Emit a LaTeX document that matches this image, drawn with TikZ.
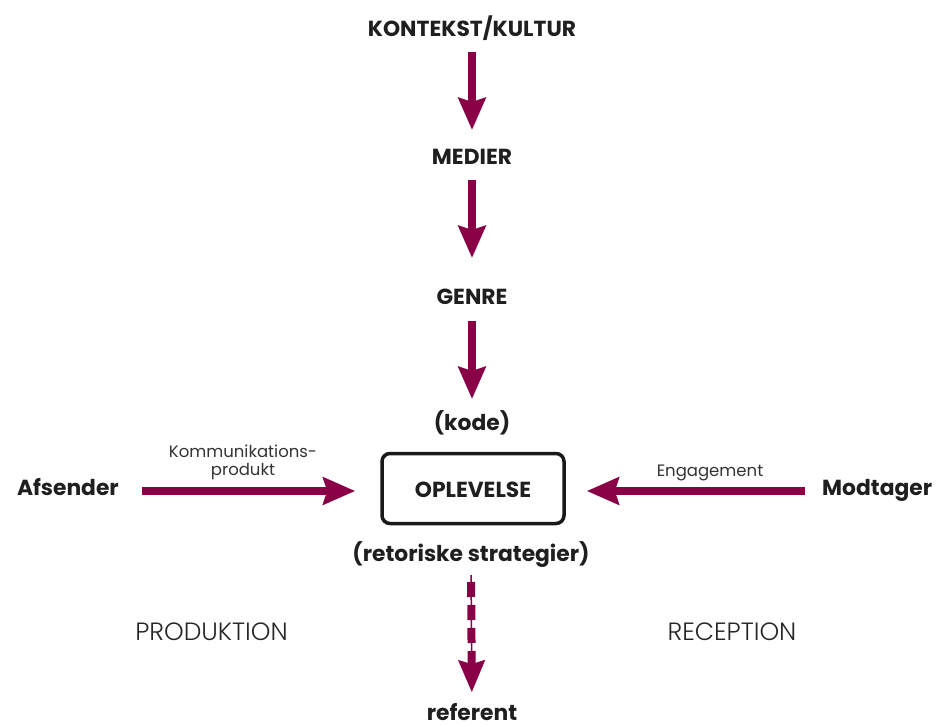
\documentclass[tikz,border=0pt]{standalone}
\usepackage{fontspec}
\setmainfont{Poppins}
\newfontfamily\lightfont{Poppins Light}
\usetikzlibrary{arrows.meta}
\definecolor{wine}{RGB}{138,0,70}
\tikzset{
  lbl/.style={inner sep=0pt, font=\fontsize{21.8}{26}\selectfont\bfseries, text=black!88},
  small/.style={inner sep=0pt, font=\fontsize{16.5}{18}\selectfont, text=black!80, align=center},
  phase/.style={inner sep=0pt, font=\fontsize{25}{29}\selectfont\lightfont, text=black!85},
  flow/.style={draw=wine, line width=8pt, -{Stealth[length=32pt,width=27pt,inset=4pt]}},
  thinflow/.style={draw=wine, line width=1.5pt, -{Stealth[length=32pt,width=27pt,inset=4pt]}},
  dashpart/.style={draw=wine, line width=8pt, dash pattern=on 15pt off 8pt},
  frame/.style={draw=black!90, line width=3.5pt, rounded corners=8pt, minimum width=182pt, minimum height=70pt, inner sep=0pt}
}
\begin{document}
\begin{tikzpicture}[x=1pt,y=-1pt]
\useasboundingbox (0,0) rectangle (940,727);
\node[lbl, anchor=base] (kk) at (472,37) {KONTEKST/KULTUR};
\node[lbl, anchor=base] (med) at (472,165) {MEDIER};
\node[lbl, anchor=base] (genre) at (472,305) {GENRE};
\node[lbl, anchor=base] (kode) at (472,430) {(kode)};
\node[frame] (box) at (473,488.5) {};
\node[lbl, anchor=base] (opl) at (473,497) {OPLEVELSE};
\node[lbl, anchor=base] (ret) at (471,561) {(retoriske strategier)};
\node[lbl, anchor=base] (ref) at (472,720) {referent};
\node[lbl, anchor=base east] (afs) at (119,495) {Afsender};
\node[lbl, anchor=base west] (mod) at (822,495) {Modtager};
\node[small, anchor=north] (komm) at (243,445) {Kommunikations-\\produkt};
\node[small, anchor=base] (eng) at (710,476) {Engagement};
\node[phase, anchor=base] (prod) at (211.5,640) {PRODUKTION};
\node[phase, anchor=base] (rec) at (732,640) {RECEPTION};

\draw[flow, shorten <=15pt, shorten >=35pt] (kk.base) -- (med.base);
\draw[flow, shorten <=15pt, shorten >=47pt] (med.base) -- (genre.base);
\draw[flow, shorten <=16pt, shorten >=31pt] (genre.base) -- (kode.base);
\draw[thinflow, shorten <=14pt, shorten >=28pt] (ret.base) -- (ref.base);
\draw[dashpart, shorten <=21pt, shorten >=56pt] (ret.base) -- (ref.base);
\draw[flow, shorten >=25pt] ([shift={(23pt,4pt)}]afs.base east) -- ([yshift=-2.5pt]box.west);
\draw[flow, shorten >=21pt] ([shift={(-17pt,4pt)}]mod.base west) -- ([yshift=-2.5pt]box.east);
\end{tikzpicture}
\end{document}
